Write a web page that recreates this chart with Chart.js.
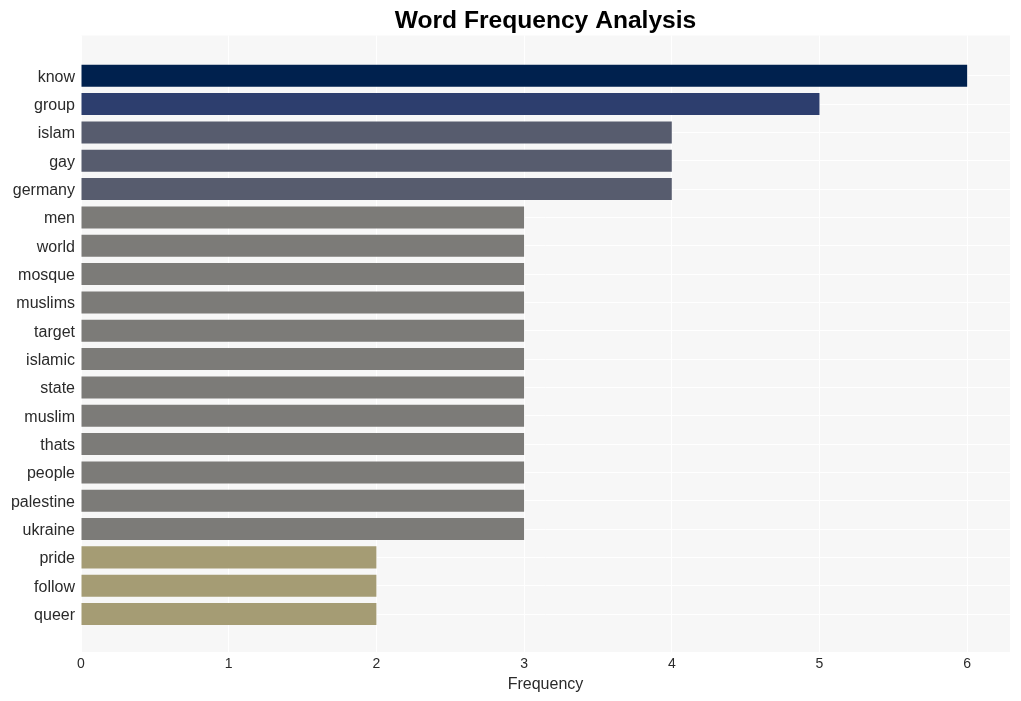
<!DOCTYPE html>
<html>
<head>
<meta charset="utf-8">
<script src="https://cdn.jsdelivr.net/npm/chart.js@4"></script>
<style>
  html, body { margin: 0; padding: 0; background: #ffffff; }
  #wrap { width: 1021px; height: 701px; }
</style>
</head>
<body>
<div id="wrap"><canvas id="c" width="1021" height="701"></canvas></div>
<script>
const words = ["know","group","islam","gay","germany","men","world","mosque","muslims","target","islamic","state","muslim","thats","people","palestine","ukraine","pride","follow","queer"];
const frequencies = [6,5,4,4,4,3,3,3,3,3,3,3,3,3,3,3,3,2,2,2];
const xTicks = [0,1,2,3,4,5,6];

const colorByValue = {6: "#00214e", 5: "#2d3e6e", 4: "#575c6e", 3: "#7c7b78", 2: "#a59c74"};

const plotBg = {
  id: "plotBg",
  beforeDraw(chart) {
    const a = chart.chartArea, ctx = chart.ctx;
    ctx.save();
    ctx.fillStyle = "#f7f7f7";
    ctx.fillRect(a.left, a.top, a.right - a.left, a.bottom - a.top);
    ctx.restore();
  }
};

new Chart(document.getElementById("c"), {
  type: "bar",
  data: {
    datasets: [{
      data: words.map((w, i) => ({ x: frequencies[i], y: i })),
      backgroundColor: frequencies.map(v => colorByValue[v]),
      borderWidth: 0,
      barPercentage: 0.777,
      categoryPercentage: 1.0
    }]
  },
  options: {
    indexAxis: "y",
    responsive: false,
    animation: false,
    layout: { padding: { top: 0, right: 11, bottom: 0, left: 0 } },
    plugins: {
      legend: { display: false },
      tooltip: { enabled: false },
      title: {
        display: true,
        fullSize: false,
        text: "Word Frequency Analysis",
        color: "#000000",
        font: { family: "'Liberation Sans', Arial, sans-serif", size: 24.6, weight: "bold" },
        padding: { top: 6, bottom: 0 }
      }
    },
    scales: {
      x: {
        type: "linear",
        min: 0,
        max: 6.29,
        afterBuildTicks(scale) { scale.ticks = xTicks.map(v => ({ value: v })); },
        afterFit(scale) { scale.height = 49; },
        grid: { color: "#ffffff", lineWidth: 1, drawTicks: false },
        border: { display: false },
        ticks: {
          padding: 4,
          color: "#2a2a2a",
          font: { family: "'Liberation Sans', Arial, sans-serif", size: 14 }
        },
        title: {
          display: true,
          text: "Frequency",
          color: "#2a2a2a",
          font: { family: "'Liberation Sans', Arial, sans-serif", size: 16 },
          padding: { top: 0, bottom: 7 }
        }
      },
      y: {
        type: "linear",
        reverse: true,
        offset: false,
        min: -1.42,
        max: 20.34,
        afterBuildTicks(scale) { scale.ticks = words.map((w, i) => ({ value: i })); },
        afterFit(scale) { scale.width = 81; },
        grid: { color: "#ffffff", lineWidth: 1, drawTicks: false, offset: false },
        border: { display: false },
        ticks: {
          padding: 6,
          labelOffset: 1.5,
          color: "#2a2a2a",
          autoSkip: false,
          font: { family: "'Liberation Sans', Arial, sans-serif", size: 16 },
          callback: (v) => words[v]
        }
      }
    }
  },
  plugins: [plotBg]
});
</script>
</body>
</html>
